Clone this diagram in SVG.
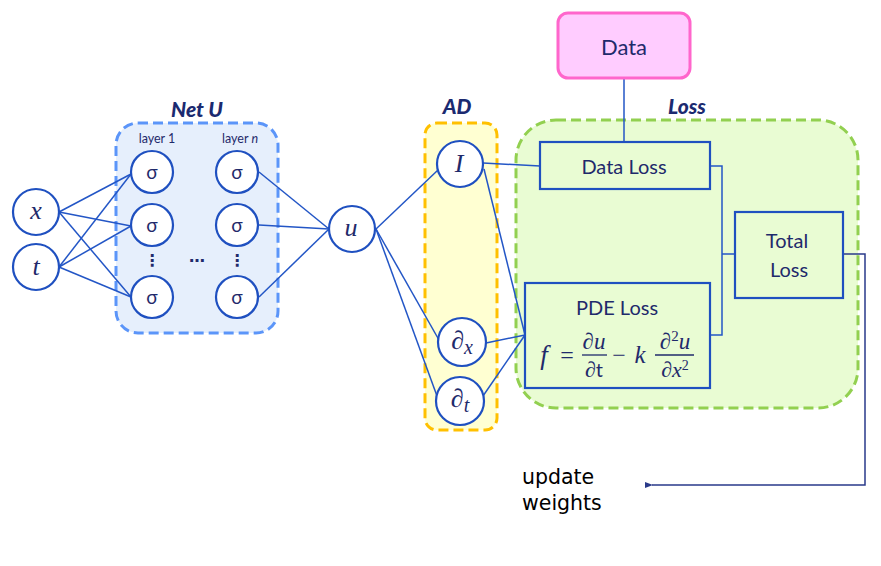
<svg xmlns="http://www.w3.org/2000/svg" width="881" height="566" viewBox="0 0 881 566">
<defs>
<style>
.node{fill:#fff;stroke:#1f50c0;stroke-width:2.2}
.lbl{font-family:Lato,"Open Sans",sans-serif;fill:#1f2a6b;text-anchor:middle}
.math{font-family:"Liberation Serif","DejaVu Serif",serif;font-style:italic;fill:#1f2a6b;text-anchor:middle}
.mup{font-family:"Liberation Serif","DejaVu Serif",serif;fill:#1f2a6b;text-anchor:middle}
.title{font-family:Lato,"Open Sans",sans-serif;font-weight:900;font-style:italic;fill:#1b2a70;text-anchor:middle;font-size:21px}
.box{fill:#e9fcd3;stroke:#1f50c0;stroke-width:2.2}
.conn{fill:none;stroke:#2356c6;stroke-width:1.5}
</style>
<marker id="arr" markerWidth="8" markerHeight="8" refX="1" refY="4" orient="auto" markerUnits="userSpaceOnUse">
<path d="M8,1 L0,4 L8,7 Z" fill="#2a3a8a"/>
</marker>
</defs>
<rect width="881" height="566" fill="#fff"/>

<g id="groups">
<rect id="netu-box" x="116" y="123" width="162" height="210" rx="22" fill="#e6effc" stroke="#5b95f9" stroke-width="3" stroke-dasharray="10 5"/>
<text class="title" x="197" y="117">Net U</text>
<rect id="ad-box" x="425" y="123" width="72" height="307" rx="12" fill="#ffffd2" stroke="#ffc000" stroke-width="3" stroke-dasharray="10 5"/>
<text class="title" x="457" y="114">AD</text>
<rect id="loss-box" x="516" y="120" width="342" height="288" rx="40" fill="#e9fcd3" stroke="#92d050" stroke-width="3" stroke-dasharray="10 5"/>
<text class="title" x="687" y="114">Loss</text>
<text class="lbl" x="157" y="143" font-size="12.5">layer 1</text>
<text class="lbl" x="240" y="143" font-size="12.5">layer <tspan font-style="italic">n</tspan></text>
</g>

<g id="connectors">
<g class="conn">
<line x1="59" y1="212" x2="131" y2="174"/>
<line x1="59" y1="212" x2="131" y2="226"/>
<line x1="59" y1="212" x2="131" y2="297"/>
<line x1="59" y1="267" x2="131" y2="174"/>
<line x1="59" y1="267" x2="131" y2="226"/>
<line x1="59" y1="267" x2="131" y2="297"/>
<line x1="259" y1="172" x2="329" y2="229"/>
<line x1="259" y1="225" x2="329" y2="229"/>
<line x1="259" y1="297" x2="329" y2="229"/>
<line x1="376" y1="229" x2="438" y2="170"/>
<line x1="376" y1="229" x2="439" y2="340"/>
<line x1="376" y1="229" x2="437" y2="396"/>
<line x1="483" y1="163" x2="540" y2="166"/>
<line x1="484" y1="169" x2="525" y2="335"/>
<line x1="486" y1="343" x2="525" y2="335"/>
<line x1="483" y1="396" x2="525" y2="335"/>
<line x1="624" y1="78" x2="624" y2="142"/>
<polyline points="710,166 722,166 722,335 710,335"/>
<line x1="722" y1="254" x2="735" y2="254"/>
</g>
<polyline points="843,254 865,254 865,485 652,485" fill="none" stroke="#2a3a8a" stroke-width="1.5" marker-end="url(#arr)"/>
</g>

<g id="node-x"><circle class="node" cx="36" cy="212" r="23"/><text class="math" x="36" y="219" font-size="26">x</text></g>
<g id="node-t"><circle class="node" cx="36" cy="267" r="23"/><text class="math" x="36" y="275" font-size="26">t</text></g>

<g id="node-s11"><circle class="node" cx="152" cy="172" r="21"/><text class="lbl" x="152" y="179" font-size="19">σ</text></g>
<g id="node-s12"><circle class="node" cx="152" cy="225" r="21"/><text class="lbl" x="152" y="232" font-size="19">σ</text></g>
<g id="node-s13"><circle class="node" cx="152" cy="297" r="21"/><text class="lbl" x="152" y="304" font-size="19">σ</text></g>
<g id="node-sn1"><circle class="node" cx="237" cy="172" r="21"/><text class="lbl" x="237" y="179" font-size="19">σ</text></g>
<g id="node-sn2"><circle class="node" cx="237" cy="225" r="21"/><text class="lbl" x="237" y="232" font-size="19">σ</text></g>
<g id="node-sn3"><circle class="node" cx="237" cy="297" r="21"/><text class="lbl" x="237" y="304" font-size="19">σ</text></g>
<g id="dots">
<text x="152" y="266" font-family="DejaVu Sans,sans-serif" font-size="16" font-weight="bold" fill="#1f2a6b" text-anchor="middle">⋮</text>
<text x="237" y="266" font-family="DejaVu Sans,sans-serif" font-size="16" font-weight="bold" fill="#1f2a6b" text-anchor="middle">⋮</text>
<text x="197" y="262" font-family="DejaVu Sans,sans-serif" font-size="16" font-weight="bold" fill="#1f2a6b" text-anchor="middle">…</text>
</g>

<g id="node-u"><circle class="node" cx="352" cy="229" r="23"/><text class="math" x="351" y="236" font-size="26">u</text></g>

<g id="node-I"><circle class="node" cx="460" cy="164" r="23"/><text class="math" x="459" y="172" font-size="26">I</text></g>
<g id="node-dx"><circle class="node" cx="462" cy="342" r="24"/><text class="math" x="462" y="349" font-size="26"><tspan font-style="normal">∂</tspan><tspan font-size="20" dy="5">x</tspan></text></g>
<g id="node-dt"><circle class="node" cx="460" cy="401" r="24"/><text class="math" x="460" y="407" font-size="26"><tspan font-style="normal">∂</tspan><tspan font-size="20" dy="5">t</tspan></text></g>

<g id="node-data"><rect x="558" y="13" width="132" height="65" rx="10" fill="#ffccff" stroke="#ff66cc" stroke-width="3"/><text class="lbl" x="624" y="55" font-size="22">Data</text></g>

<g id="node-dataloss"><rect class="box" x="540" y="142" width="170" height="47"/><text class="lbl" x="624" y="174" font-size="20">Data Loss</text></g>

<g id="node-totalloss"><rect class="box" x="735" y="212" width="108" height="86"/><text class="lbl" x="787" y="248" font-size="20">Total</text><text class="lbl" x="789" y="277" font-size="20">Loss</text></g>

<g id="node-pdeloss"><rect class="box" x="525" y="283" width="185" height="105"/>
<text class="lbl" x="617" y="315" font-size="20">PDE Loss</text>
<text class="math" x="544" y="364" font-size="27">f</text>
<text class="mup" x="567" y="363" font-size="24">=</text>
<text class="mup" x="594" y="349" font-size="23">∂<tspan font-style="italic">u</tspan></text>
<line x1="582" y1="355" x2="607" y2="355" stroke="#1f2a6b" stroke-width="1.3"/>
<text class="mup" x="594" y="377" font-size="22">∂<tspan font-family="Lato,sans-serif" font-size="20">t</tspan></text>
<text class="mup" x="619" y="363" font-size="24">−</text>
<text class="math" x="640" y="363" font-size="25">k</text>
<text class="mup" x="675" y="349" font-size="23">∂<tspan font-size="15" dy="-8">2</tspan><tspan font-style="italic" dy="8">u</tspan></text>
<line x1="655" y1="355" x2="694" y2="355" stroke="#1f2a6b" stroke-width="1.3"/>
<text class="mup" x="675" y="377" font-size="22">∂<tspan font-style="italic">x</tspan><tspan font-size="14" dy="-7">2</tspan></text>
</g>

<g id="label-update">
<text x="522" y="484" font-family="DejaVu Sans,sans-serif" font-size="20.5" fill="#000">update</text>
<text x="522" y="510" font-family="DejaVu Sans,sans-serif" font-size="20.5" fill="#000">weights</text>
</g>
</svg>
